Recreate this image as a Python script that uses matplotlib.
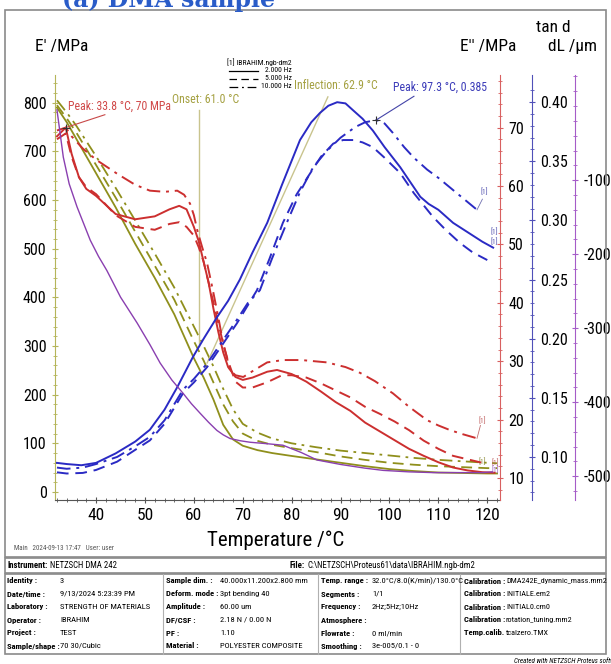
import numpy as np
import matplotlib.pyplot as plt
from matplotlib.patches import Rectangle
from matplotlib.lines import Line2D

plt.rcParams['font.family'] = ['Roboto Condensed', 'DejaVu Sans Condensed', 'Liberation Sans Narrow', 'Liberation Sans', 'DejaVu Sans']
plt.rcParams['axes.unicode_minus'] = False

# E' storage modulus /MPa (olive)
t_e1 = [32, 34, 36, 40, 44, 48, 52, 56, 60, 62, 64, 66, 68, 70, 73, 76, 80, 85, 90, 95, 100, 105, 110, 115, 120, 122]
e1_2hz = [790, 760, 725, 655, 585, 510, 440, 365, 275, 235, 190, 138, 108, 95, 86, 80, 74, 67, 60, 53, 47, 43, 40, 39, 38, 38]
e1_5hz = [795, 768, 738, 672, 605, 535, 465, 395, 310, 270, 225, 180, 145, 120, 105, 97, 90, 82, 73, 66, 60, 56, 53, 51, 49, 49]
e1_10hz = [805, 780, 752, 690, 625, 558, 490, 420, 340, 300, 258, 212, 170, 140, 122, 110, 100, 92, 85, 80, 75, 70, 66, 63, 60, 59]

# E'' loss modulus /MPa (red)
t_e2_2hz = [32, 33.8, 35, 36.5, 38, 40, 44, 48, 52, 55, 57, 58.5, 60, 61, 62, 63, 64, 65, 66, 67, 68.5, 70, 72, 75, 77,
            80, 83, 86, 89, 92, 95, 98, 101, 104, 107, 110, 113, 116, 119, 121.5]
e2_2hz = [68.5, 70, 65.5, 61.5, 59.5, 58.3, 55.2, 54.3, 54.8, 56.0, 56.6, 56.0, 53.0, 50.5, 47, 43.5, 39, 35, 31.5, 29,
          27.3, 26.8, 27.2, 28.2, 28.5, 27.8, 26.5, 24.8, 23, 21.5, 19.5, 18, 16.5, 15, 13.8, 12.7, 11.8, 11.3, 11.0, 10.9]
t_e2_5hz = [32, 33.8, 35, 36.5, 38, 40, 44, 48, 52, 55, 57, 58.5, 60, 61, 62, 63, 64, 65, 66, 67, 68.5, 70, 72, 75, 78,
            80, 83, 86, 89, 92, 95, 98, 101, 104, 107, 110, 113, 116, 119]
e2_5hz = [68.0, 69.0, 65, 61.5, 59.8, 58.6, 55, 53, 52.5, 53.5, 53.8, 53.0, 51.5, 49.5, 47, 43.5, 40, 36.5, 33, 30, 26.5,
          25.5, 25.5, 26.4, 27.6, 27.6, 27.2, 26.2, 25, 23.8, 22.2, 21, 19.7, 18.2, 16.4, 15, 13.8, 13.2, 12.6]
t_e2_10hz = [32, 33.8, 35, 37.3, 40, 44.3, 48, 51, 54, 56.6, 58, 59.2, 60, 60.7, 61.7, 62.7, 63.9, 65, 66, 67.4, 68.5, 70.1,
             72, 75, 78.2, 82, 87.2, 91, 94, 97, 100.7, 104, 107.7, 110, 112.4, 115, 117.9]
e2_10hz = [69.5, 70.0, 68.5, 66.4, 64.5, 62.1, 60.2, 59.2, 59.0, 59.2, 58.5, 57.0, 55, 52.4, 49.5, 46.8, 42.1, 37.5, 33,
           28.5, 27.6, 27.3, 28.3, 29.8, 30.2, 30.2, 29.8, 29, 28, 26.6, 24.5, 22.2, 19.9, 19, 18.2, 17.5, 16.8]

# tan d (blue)
t_tan_2hz = [32, 34, 37, 40, 44, 48, 51, 54, 56.6, 59.8, 62, 64.7, 67, 69.4, 72, 75, 78, 81.7, 84, 85.8, 87.5, 89.3, 91,
             92.6, 94.5, 96.6, 99, 102.2, 104, 106.3, 108, 110, 113, 116, 119, 121.2]
tan_2hz = [0.095, 0.094, 0.093, 0.095, 0.103, 0.113, 0.123, 0.140, 0.159, 0.1845, 0.200, 0.218, 0.232, 0.250, 0.273,
           0.298, 0.330, 0.368, 0.383, 0.391, 0.397, 0.400, 0.399, 0.393, 0.386, 0.376, 0.362, 0.345, 0.334, 0.320,
           0.314, 0.309, 0.298, 0.290, 0.282, 0.277]
t_tan_5hz = [32, 34, 37.3, 40, 44.3, 48, 51, 54, 57.8, 60, 62.7, 66, 68.8, 72.9, 75.5, 78.2, 81, 83.8, 86, 88.5, 90.5,
             92.6, 94.5, 96.6, 99, 102.2, 105, 108.9, 111.5, 114.4, 117, 120]
tan_5hz = [0.087, 0.086, 0.0865, 0.089, 0.096, 0.106, 0.114, 0.128, 0.154, 0.163, 0.176, 0.196, 0.213, 0.241, 0.268,
           0.298, 0.322, 0.340, 0.354, 0.365, 0.368, 0.368, 0.366, 0.362, 0.353, 0.340, 0.323, 0.303, 0.292, 0.281,
           0.273, 0.2665]
t_tan_10hz = [32, 34, 37.3, 40, 44.3, 48, 51, 54, 57.8, 60, 62.7, 66, 68.8, 71, 73.5, 76, 79, 81.7, 84.4, 87, 90, 93, 95,
              97.3, 99, 100.7, 103, 105, 107.7, 110, 113.8, 117.9]
tan_10hz = [0.091, 0.090, 0.091, 0.094, 0.100, 0.109, 0.117, 0.131, 0.157, 0.166, 0.179, 0.199, 0.216, 0.230, 0.241,
            0.268, 0.298, 0.324, 0.345, 0.358, 0.370, 0.379, 0.383, 0.385, 0.382, 0.374, 0.362, 0.353, 0.343, 0.336,
            0.323, 0.309]

# dL /um (purple)
t_dl = [32, 33.3, 34.5, 36.1, 38.8, 40.5, 42.2, 45, 48.4, 51, 53.1, 55.5, 57.8, 59.5, 61.3, 63, 64.7, 66, 67.4, 69.5,
        71.5, 75, 78.2, 82, 85.2, 90, 95, 98.7, 104, 108.9, 114, 119, 121]
dl = [-5, -69, -105, -136, -181, -203, -222, -258, -293, -322, -347, -370, -388, -402, -415, -427, -438, -444, -449,
      -452, -454, -456, -458, -468, -478, -484, -489, -492, -494, -495, -495, -495, -494]

freq_labels = ['2.000 Hz', '5.000 Hz', '10.000 Hz']

info_rows = [
    [('Identity :', '3'), ('Sample dim. :', '40.000x11.200x2.800 mm'), ('Temp. range :', '32.0°C/8.0(K/min)/130.0°C'), ('Calibration :', 'DMA242E_dynamic_mass.mm2')],
    [('Date/time :', '9/13/2024 5:23:39 PM'), ('Deform. mode :', '3pt bending 40'), ('Segments :', '1/1'), ('Calibration :', 'INITIALE.em2')],
    [('Laboratory :', 'STRENGTH OF MATERIALS'), ('Amplitude :', '60.00 um'), ('Frequency :', '2Hz;5Hz;10Hz'), ('Calibration :', 'INITIAL0.cm0')],
    [('Operator :', 'IBRAHIM'), ('DF/CSF :', '2.18 N / 0.00 N'), ('Atmosphere :', ''), ('Calibration :', 'rotation_tuning.mm2')],
    [('Project :', 'TEST'), ('PF :', '1.10'), ('Flowrate :', '0 ml/min'), ('Temp.calib. :', 'tcalzero.TMX')],
    [('Sample/shape :', '70 30/Cubic'), ('Material :', 'POLYESTER COMPOSITE'), ('Smoothing :', '3e-005/0.1 - 0'), ('', '')],
]

OLIVE = '#8f8f1c'
RED = '#cc2f2f'
BLUE = '#2a2ac4'
PURPLE = '#8a3fb0'
styles = ['-', (0, (6, 3.5)), (0, (7, 3, 1.5, 3))]

W, H = 611, 664
fig = plt.figure(figsize=(W / 100, H / 100), dpi=100)

ax = fig.add_axes([55 / W, 1 - 500 / H, 445 / W, 425 / H])
ax.set_xlim(31.6, 122.6)
ax.set_ylim(-16.5, 857)
ax_r = ax.twinx()
ax_r.set_ylim(6.24, 79)
ax_t = ax.twinx()
ax_t.set_ylim(0.0636, 0.423)
ax_t.spines['right'].set_position(('axes', 1 + 32 / 445))
ax_d = ax.twinx()
ax_d.set_ylim(-532, 42)
ax_d.spines['right'].set_position(('axes', 1 + 75 / 445))

ax.spines['top'].set_visible(False)
ax.spines['right'].set_visible(False)
ax.spines['left'].set_color('#b5b55a')
ax.spines['bottom'].set_color('#555555')
for a, c in [(ax_r, '#d86060'), (ax_t, '#5050b8'), (ax_d, '#a55cc8')]:
    for s in ['top', 'left', 'bottom']:
        a.spines[s].set_visible(False)
    a.spines['right'].set_color(c)
    a.tick_params(axis='y', which='both', colors=c, labelcolor='black', direction='inout', labelsize=11.5)
    a.tick_params(axis='y', which='major', length=5)
    a.tick_params(axis='y', which='minor', length=3)

ax.set_xticks(np.arange(40, 121, 10))
ax.set_xticks(np.arange(32, 123, 2), minor=True)
ax.set_yticks(np.arange(0, 801, 100))
ax.set_yticks(np.arange(-0, 851, 20), minor=True)
ax.tick_params(axis='x', which='both', direction='inout', colors='#555555', labelcolor='black', labelsize=12.5)
ax.tick_params(axis='y', which='both', direction='inout', colors='#b5b55a', labelcolor='black', labelsize=11.5)
ax.tick_params(which='major', length=5)
ax.tick_params(which='minor', length=3)

ax_r.set_yticks(np.arange(10, 71, 10))
ax_r.set_yticks(np.arange(8, 79, 2), minor=True)
ax_t.set_yticks(np.arange(0.10, 0.41, 0.05))
ax_t.set_yticklabels(['%.2f' % v for v in np.arange(0.10, 0.41, 0.05)])
ax_t.set_yticks(np.arange(0.07, 0.42, 0.01), minor=True)
ax_d.set_yticks(np.arange(-500, -99, 100))
ax_d.set_yticks(np.arange(-520, 41, 20), minor=True)

# curves
for ls, y in zip(styles, [e1_2hz, e1_5hz, e1_10hz]):
    ax.plot(t_e1, y, color=OLIVE, lw=1.3, ls=ls)
ax_d.plot(t_dl, dl, color=PURPLE, lw=1.0)
for ls, t, y in zip(styles, [t_e2_2hz, t_e2_5hz, t_e2_10hz], [e2_2hz, e2_5hz, e2_10hz]):
    ax_r.plot(t, y, color=RED, lw=1.4, ls=ls)
for ls, t, y in zip(styles, [t_tan_2hz, t_tan_5hz, t_tan_10hz], [tan_2hz, tan_5hz, tan_10hz]):
    ax_t.plot(t, y, color=BLUE, lw=1.4, ls=ls)

# onset / inflection / peaks
ax.plot([61.0, 61.0], [785, 300], color='#c9c48e', lw=1.0)
ax.text(55.6, 806, 'Onset: 61.0 °C', color='#a4a040', fontsize=8.5, va='center')
ax.plot([87.4, 62.7], [812, 265], color='#c9c48e', lw=1.0)
ax.text(80.5, 835, 'Inflection: 62.9 °C', color='#a4a040', fontsize=8.5, va='center')
ax_r.plot([33.8, 41.8], [70, 72.2], color='#c84848', lw=0.8)
ax_r.plot([33.8], [70], marker='+', color='#333333', ms=6, mew=0.8)
ax_r.text(34.2, 73.6, 'Peak: 33.8 °C, 70 MPa', color='#d04848', fontsize=8.5, va='center')
ax_t.plot([97.3, 105.0], [0.385, 0.405], color='#4444a8', lw=0.8)
ax_t.plot([97.3], [0.385], marker='+', color='#333333', ms=6, mew=0.8)
ax_t.text(100.7, 0.413, 'Peak: 97.3 °C, 0.385', color='#3a3ab8', fontsize=8.5, va='center')

# [1] end tags
ax_t.plot([117.9, 119.0], [0.309, 0.318], color='#7070b0', lw=0.6)
ax_t.text(118.6, 0.322, '[1]', color='#5555b0', fontsize=5.5)
ax_t.text(120.6, 0.288, '[1]', color='#5555b0', fontsize=5.5)
ax_t.text(120.6, 0.280, '[1]', color='#5555b0', fontsize=5.5)
ax_r.plot([117.9, 118.6], [16.8, 19.0], color='#c07070', lw=0.6)
ax_r.text(118.2, 19.4, '[1]', color='#c06060', fontsize=5.5)
ax.text(118.3, 58, '[1]', color='#909040', fontsize=5.5)
ax_r.text(120.8, 12.2, '[1]', color='#c06060', fontsize=5.5)
ax_r.text(120.8, 11.0, '[1]', color='#9a5cc0', fontsize=5.5)

# legend
leg_x0, leg_x1 = 229 / W, 258 / W
fig.text(227 / W, 1 - 62 / H, '[1] IBRAHIM.ngb-dm2', fontsize=5.5, va='center')
for i, (ls, lab) in enumerate(zip(styles, freq_labels)):
    yy = 1 - (70.5 + 8 * i) / H
    fig.add_artist(Line2D([leg_x0, leg_x1], [yy, yy], color='black', lw=0.9, ls=ls))
    fig.text(292 / W, yy, lab, fontsize=5.5, va='center', ha='right')

# axis titles
fig.text(35 / W, 1 - 47 / H, "E' /MPa", fontsize=12.5, va='center')
fig.text(460 / W, 1 - 47 / H, "E'' /MPa", fontsize=12.5, va='center')
fig.text(553 / W, 1 - 27 / H, 'tan d', fontsize=12.5, va='center', ha='center')
fig.text(548 / W, 1 - 47 / H, 'dL /µm', fontsize=12.5, va='center')
fig.text(276 / W, 1 - 540 / H, 'Temperature /°C', fontsize=15, va='center', ha='center')
fig.text(14 / W, 1 - 548 / H, 'Main   2024-09-13 17:47   User: user', fontsize=5, va='center', color='#555555')

# caption cut at the top
fig.text(62 / W, 1 - 7 / H, '(a) DMA sample', fontsize=17, fontweight='bold', family='DejaVu Serif',
         color='#2a5cc8', va='baseline')

# frames
fig.add_artist(Rectangle((5 / W, 1 - 557 / H), 601 / W, 547 / H, fill=False, ec='#8a8a8a', lw=1.2))
fig.add_artist(Rectangle((5 / W, 1 - 573 / H), 601 / W, 15 / H, fill=False, ec='#8a8a8a', lw=1.2))
fig.add_artist(Rectangle((5 / W, 1 - 654 / H), 601 / W, 80 / H, fill=False, ec='#8a8a8a', lw=1.2))
for xd in [163, 318, 460]:
    fig.add_artist(Line2D([xd / W, xd / W], [1 - 574 / H, 1 - 654 / H], color='#b0b0b0', lw=0.8))

fig.text(7 / W, 1 - 565.5 / H, 'Instrument:', fontsize=6.3, fontweight='bold', va='center')
fig.text(50 / W, 1 - 565.5 / H, 'NETZSCH DMA 242', fontsize=6.3, va='center')
fig.text(290 / W, 1 - 565.5 / H, 'File:', fontsize=6.3, fontweight='bold', va='center')
fig.text(307 / W, 1 - 565.5 / H, 'C:\\NETZSCH\\Proteus61\\data\\IBRAHIM.ngb-dm2', fontsize=6.3, va='center')

col_label_x = [7, 166, 321, 464]
col_value_x = [60, 220, 372, 506]
for r, row in enumerate(info_rows):
    yy = 1 - (581 + 13 * r) / H
    for c, (lab, val) in enumerate(row):
        fig.text(col_label_x[c] / W, yy, lab, fontsize=6.1, fontweight='bold', va='center')
        fig.text(col_value_x[c] / W, yy, val, fontsize=5.9 if c == 3 else 6.1, va='center')

fig.text(514 / W, 1 - 661 / H, 'Created with NETZSCH Proteus software', fontsize=5, style='italic', va='center')

fig.savefig('out.png', dpi=100)
